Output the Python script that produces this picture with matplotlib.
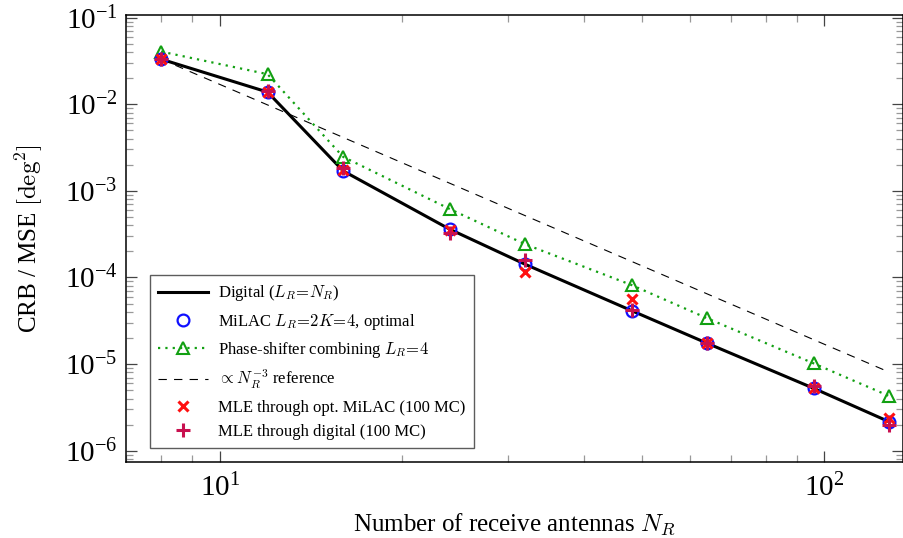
import matplotlib
matplotlib.use("Agg")
import matplotlib.pyplot as plt
import numpy as np

plt.rcParams['font.family'] = ['Liberation Serif', 'DejaVu Serif']
plt.rcParams['mathtext.fontset'] = 'cm'

# data
n_r = [8, 12, 16, 24, 32, 48, 64, 96, 128]
digital = [3.31e-2, 1.38e-2, 1.70e-3, 3.61e-4, 1.42e-4, 4.14e-5, 1.74e-5, 5.26e-6, 2.16e-6]
milac = [3.31e-2, 1.38e-2, 1.70e-3, 3.61e-4, 1.42e-4, 4.14e-5, 1.74e-5, 5.26e-6, 2.16e-6]
phase_shifter = [4.05e-2, 2.22e-2, 2.47e-3, 6.18e-4, 2.42e-4, 8.18e-5, 3.38e-5, 1.02e-5, 4.28e-6]
ref_x = [8, 128]
ref_y = [3.31e-2, 8.08e-6]
mle_milac = [3.31e-2, 1.38e-2, 1.72e-3, 3.55e-4, 1.17e-4, 5.65e-5, 1.76e-5, 5.30e-6, 2.36e-6]
mle_digital = [3.31e-2, 1.42e-2, 1.85e-3, 3.25e-4, 1.60e-4, 4.20e-5, 1.74e-5, 5.55e-6, 1.98e-6]

fig = plt.figure(figsize=(9.04, 5.38), dpi=100)
ax = fig.add_axes([0.1394, 0.1407, 0.8596, 0.8314])

ax.plot(n_r, digital, color='black', lw=2.2, label=r'Digital ($L_R\!=\!N_R$)', zorder=3)
ax.plot(n_r, milac, ls='none', marker='o', ms=8.5, mfc='none', mec='#1010ff', mew=1.6,
        label=r'MiLAC $L_R\!=\!2K\!=\!4$, optimal', zorder=4)
ax.plot(n_r, phase_shifter, color='#12a012', ls=(0, (1, 2.3)), lw=1.6, marker='^', ms=8,
        mfc='none', mew=1.5, label=r'Phase-shifter combining $L_R\!=\!4$', zorder=3)
ax.plot(ref_x, ref_y, color='black', lw=0.8, ls=(0, (7.5, 6.5)),
        label=r'$\propto N_R^{-3}$ reference', zorder=2)
ax.plot(n_r, mle_milac, ls='none', marker='x', ms=7, mec='#ff1010', mew=2.2,
        label='MLE through opt. MiLAC (100 MC)', zorder=5)
ax.plot(n_r, mle_digital, ls='none', marker='+', ms=10, mec='#c8104f', mew=2.2,
        label='MLE through digital (100 MC)', zorder=6)

ax.set_xscale('log')
ax.set_yscale('log')
ax.set_xlim(7, 135)
ax.set_ylim(7.35e-7, 0.107)
ax.set_yticks([1e-6, 1e-5, 1e-4, 1e-3, 1e-2, 1e-1])
ax.set_xticks([10, 100])
ax.tick_params(which='both', direction='in', top=True, right=True, labelsize=21)
ax.tick_params(which='major', length=8, width=0.9, color='#444444')
ax.tick_params(which='minor', length=5, width=0.9, color='#999999')
ax.tick_params(axis='x', pad=8)
ax.tick_params(axis='y', pad=6)
for s in ax.spines.values():
    s.set_linewidth(1.1)

ax.set_xlabel(r'Number of receive antennas $N_R$', fontsize=18, labelpad=7)
ax.set_ylabel(r'CRB / MSE $[\mathrm{deg}^2]$', fontsize=18, labelpad=14)

leg = ax.legend(loc='lower left', bbox_to_anchor=(0.031, 0.031), borderaxespad=0,
                fontsize=12, fancybox=False, frameon=True, edgecolor='#333333',
                handlelength=3.0, labelspacing=0.5, borderpad=0.5, handletextpad=0.6)
leg.get_frame().set_linewidth(1.0)

fig.savefig('out.png', dpi=100)
